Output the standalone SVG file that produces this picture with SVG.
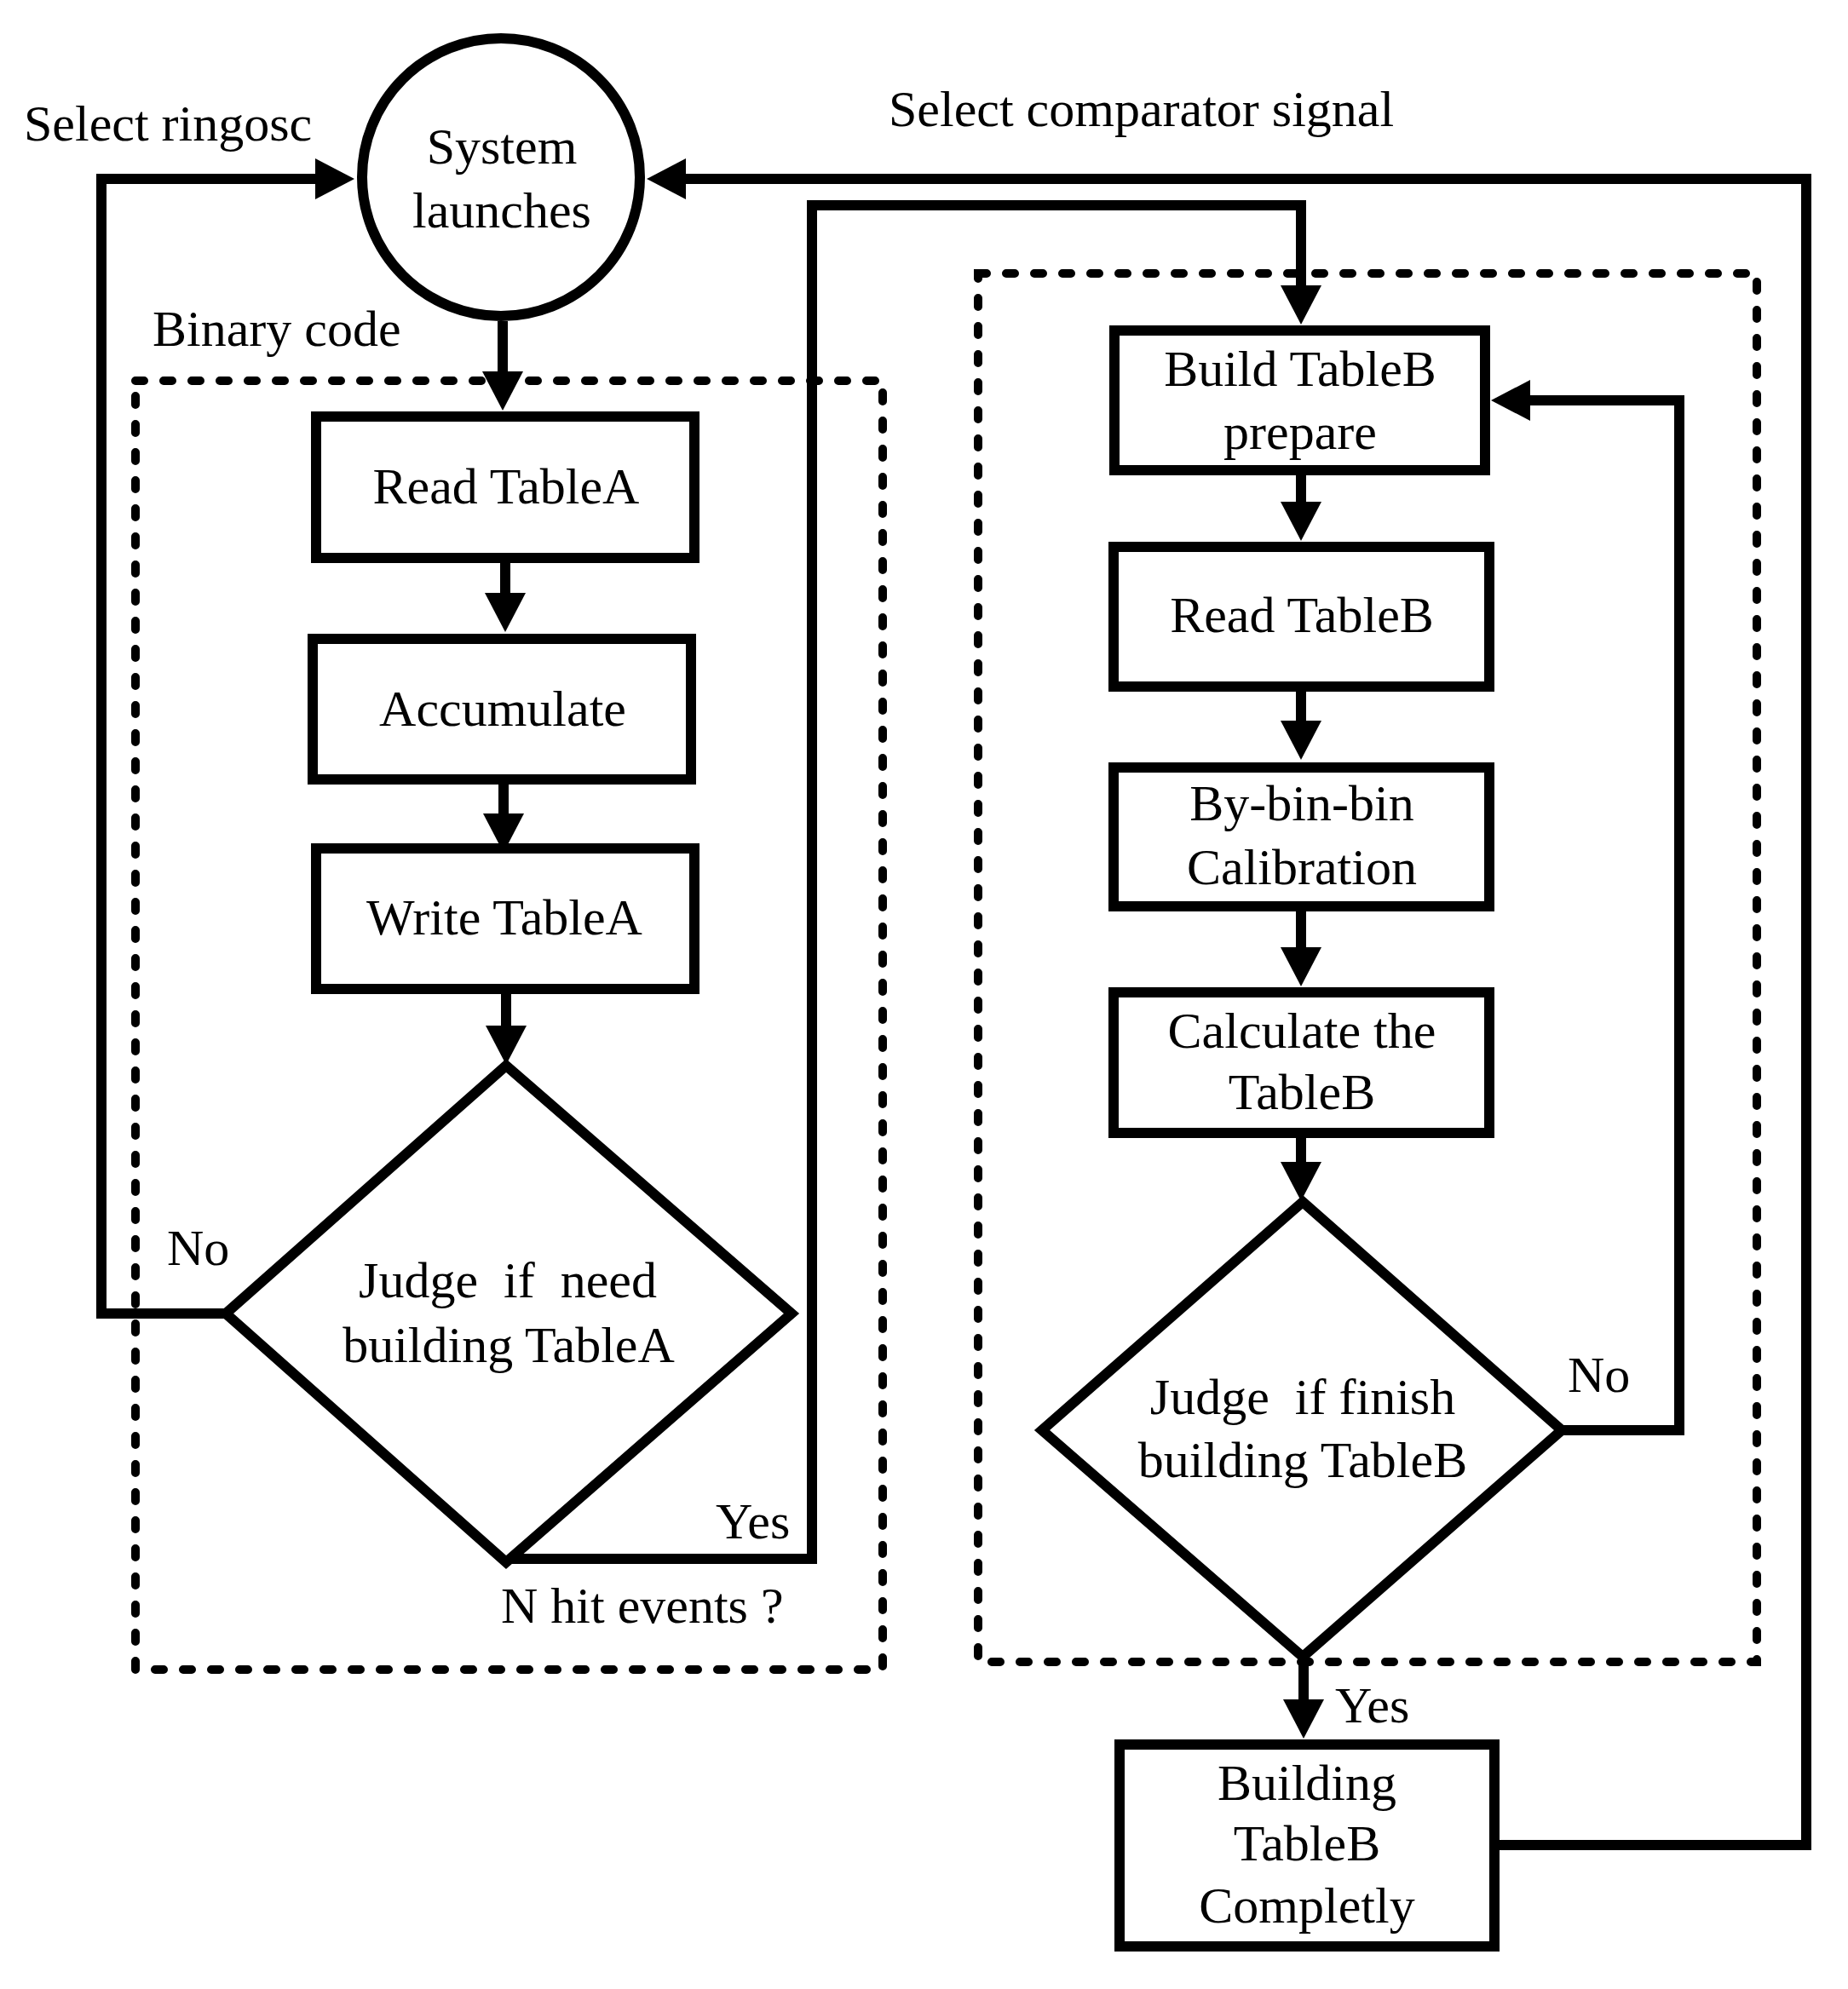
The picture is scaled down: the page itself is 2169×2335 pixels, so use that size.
<svg xmlns="http://www.w3.org/2000/svg" width="2169" height="2335" viewBox="0 0 2169 2335">
<style>
.node{fill:#fff;stroke:#000;stroke-width:12}
.conn{fill:none;stroke:#000;stroke-width:12;stroke-linejoin:miter}
.grp{fill:none;stroke:#000;stroke-width:10;stroke-dasharray:10 23;stroke-linecap:round}
text{font-family:"Liberation Serif","Times New Roman",serif;font-size:60px;fill:#000}
.c{text-anchor:middle}
</style>
<defs>
<marker id="ah" markerUnits="userSpaceOnUse" markerWidth="48" markerHeight="50" refX="1" refY="25" orient="auto">
<path d="M0,1 L46,25 L0,49 z" fill="#000"/>
</marker>
</defs>
<rect width="2169" height="2335" fill="#fff"/>
<g id="groups">
<rect class="grp" x="159" y="447" width="877" height="1513"/>
<rect class="grp" x="1148" y="321" width="914" height="1630"/>
</g>
<g id="connectors">
<path class="conn" d="M590,377 V437" marker-end="url(#ah)"/>
<path class="conn" d="M593,661 V697" marker-end="url(#ah)"/>
<path class="conn" d="M591,921 V956" marker-end="url(#ah)"/>
<path class="conn" d="M594,1167 V1205" marker-end="url(#ah)"/>
<path class="conn" d="M265,1542 H119 V210 H371" marker-end="url(#ah)"/>
<path class="conn" d="M594,1830 H953 V241 H1527 V336" marker-end="url(#ah)"/>
<path class="conn" d="M1527,558 V590" marker-end="url(#ah)"/>
<path class="conn" d="M1527,812 V847" marker-end="url(#ah)"/>
<path class="conn" d="M1527,1070 V1113" marker-end="url(#ah)"/>
<path class="conn" d="M1527,1336 V1365" marker-end="url(#ah)"/>
<path class="conn" d="M1833,1679 H1971 V470 H1795" marker-end="url(#ah)"/>
<path class="conn" d="M1530,1945 V1996" marker-end="url(#ah)"/>
<path class="conn" d="M1760,2166 H2120 V210 H804" marker-end="url(#ah)"/>
</g>
<g id="labels">
<text x="28" y="165">Select ringosc</text>
<text x="1043" y="148">Select comparator signal</text>
<text x="179" y="406">Binary code</text>
<text x="196" y="1485">No</text>
<text x="840" y="1806">Yes</text>
<text x="588" y="1905">N hit events ?</text>
<text x="1840" y="1634">No</text>
<text x="1567" y="2022">Yes</text>
</g>
<g id="n-start">
<circle class="node" cx="588" cy="208" r="163"/>
<text class="c" x="589" y="192">System</text>
<text class="c" x="589" y="267">launches</text>
</g>
<g id="n-readA">
<rect class="node" x="371" y="489" width="444" height="166"/>
<text class="c" x="594" y="591">Read TableA</text>
</g>
<g id="n-accum">
<rect class="node" x="367" y="750" width="444" height="165"/>
<text class="c" x="590" y="852">Accumulate</text>
</g>
<g id="n-writeA">
<rect class="node" x="371" y="996" width="444" height="165"/>
<text class="c" x="592" y="1097">Write TableA</text>
</g>
<g id="n-judgeA">
<polygon class="node" points="594,1251 929,1542 594,1834 265,1542"/>
<text class="c" x="596" y="1523" xml:space="preserve">Judge  if  need</text>
<text class="c" x="597" y="1599">building TableA</text>
</g>
<g id="n-buildB">
<rect class="node" x="1308" y="388" width="435" height="164"/>
<text class="c" x="1526" y="453">Build TableB</text>
<text class="c" x="1526" y="527">prepare</text>
</g>
<g id="n-readB">
<rect class="node" x="1307" y="642" width="441" height="164"/>
<text class="c" x="1528" y="742">Read TableB</text>
</g>
<g id="n-bybin">
<rect class="node" x="1307" y="901" width="441" height="163"/>
<text class="c" x="1528" y="963">By-bin-bin</text>
<text class="c" x="1528" y="1038">Calibration</text>
</g>
<g id="n-calc">
<rect class="node" x="1307" y="1165" width="441" height="165"/>
<text class="c" x="1528" y="1230">Calculate the</text>
<text class="c" x="1528" y="1302">TableB</text>
</g>
<g id="n-judgeB">
<polygon class="node" points="1529,1411 1833,1679 1529,1945 1223,1679"/>
<text class="c" x="1529" y="1660" xml:space="preserve">Judge  if finish</text>
<text class="c" x="1529" y="1734">building TableB</text>
</g>
<g id="n-done">
<rect class="node" x="1314" y="2048" width="440" height="237"/>
<text class="c" x="1534" y="2113">Building</text>
<text class="c" x="1534" y="2184">TableB</text>
<text class="c" x="1534" y="2257">Completly</text>
</g>
</svg>
